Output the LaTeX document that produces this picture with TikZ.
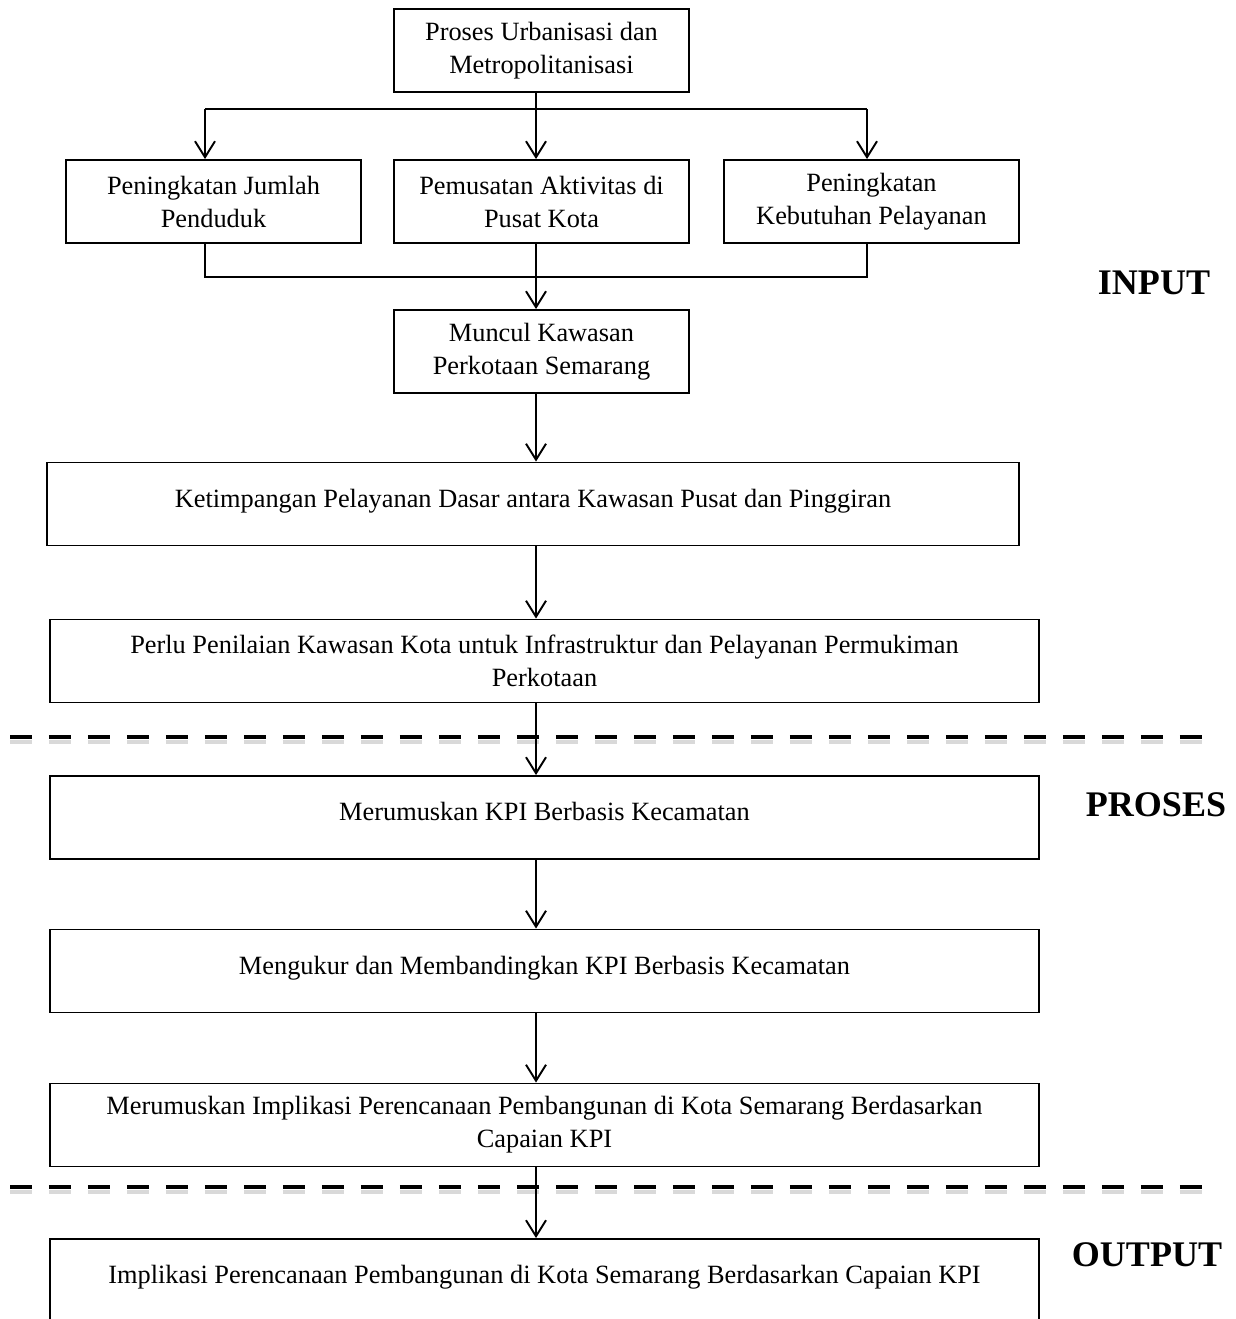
\documentclass[tikz,border=0pt]{standalone}
\usepackage{fontspec}
\setmainfont{Liberation Serif}
\usetikzlibrary{
    arrows.meta,
    positioning,
    calc
}
\tikzstyle{arrow} = [line width=1.1pt,-{Straight Barb[length=0.32cm,width=0.4cm,line width=1.1pt]}]
\tikzstyle{garis} = [line width=1.1pt]
\tikzstyle{batas} = [line width=2.8pt,dash pattern=on 0.44cm off 0.34cm]

\begin{document}
\begin{tikzpicture}[
        x=0.02cm,
        y=-0.02cm,
        line join=miter,
        every node/.style={font=\fontsize{15}{18.8}\selectfont},
        kotak/.style={draw,line width=1.1pt,align=center,inner sep=0pt,
            minimum height=1.66cm},
        kecil/.style={kotak,minimum width=5.9cm},
        satu/.style={kotak,text height=9pt,text depth=5.5pt},
        tahap/.style={font=\fontsize{20.5}{24}\selectfont\bfseries}
    ]

        % batas gambar
        \useasboundingbox (0,0) rectangle (1236,1319);

        % titik bantu jalur utama
        \coordinate (tengah) at (536,0);
        \coordinate (atas) at (536,109);
        \coordinate (bawah) at (536,277);
        \coordinate (kiri) at (205,109);
        \coordinate (kanan) at (867,109);

        % kotak bagian input
        \node[kecil] (urban) at (541.5,50.5)
            {Proses Urbanisasi dan\\Metropolitanisasi};
        \node[kecil] (pend) at (213.5,201.5)
            {Peningkatan Jumlah\\Penduduk};
        \node[kecil] (pusat) at (541.5,201.5)
            {Pemusatan Aktivitas di\\Pusat Kota};
        \node[kecil] (layan) at (871.5,201.5)
            {Peningkatan\\Kebutuhan Pelayanan};
        \node[kecil] (muncul) at (541.5,351.5)
            {Muncul Kawasan\\Perkotaan Semarang};
        \node[satu,minimum width=19.44cm] (timpang) at (533,504)
            {Ketimpangan Pelayanan Dasar antara Kawasan Pusat dan Pinggiran};
        \node[kotak,minimum width=19.78cm] (perlu) at (544.5,661)
            {Perlu Penilaian Kawasan Kota untuk Infrastruktur dan Pelayanan Permukiman\\Perkotaan};

        % kotak bagian proses
        \node[satu,minimum width=19.78cm] (kpi) at (544.5,817.5)
            {Merumuskan KPI Berbasis Kecamatan};
        \node[satu,minimum width=19.78cm] (ukur) at (544.5,971)
            {Mengukur dan Membandingkan KPI Berbasis Kecamatan};
        \node[kotak,minimum width=19.78cm] (implikasi) at (544.5,1125)
            {Merumuskan Implikasi Perencanaan Pembangunan di Kota Semarang Berdasarkan\\Capaian KPI};

        % kotak bagian output
        \node[satu,minimum width=19.78cm] (hasil) at (544.5,1280.5)
            {Implikasi Perencanaan Pembangunan di Kota Semarang Berdasarkan Capaian KPI};

        % percabangan ke tiga kotak
        \draw[garis] (urban.south -| tengah) -- (atas);
        \draw[garis] (kiri) -- (kanan);
        \draw[arrow] (kiri) -- (kiri |- pend.north);
        \draw[arrow] (atas) -- (tengah |- pusat.north);
        \draw[arrow] (kanan) -- (kanan |- layan.north);

        % penggabungan ke kawasan perkotaan
        \draw[garis] (kiri |- pend.south) -- (kiri |- bawah)
            -- (kanan |- bawah) -- (kanan |- layan.south);
        \draw[arrow] (tengah |- pusat.south) -- (tengah |- muncul.north);

        % alur ke bawah
        \draw[arrow] (tengah |- muncul.south) -- (tengah |- timpang.north);
        \draw[arrow] (tengah |- timpang.south) -- (tengah |- perlu.north);
        \draw[arrow] (tengah |- kpi.south) -- (tengah |- ukur.north);
        \draw[arrow] (tengah |- ukur.south) -- (tengah |- implikasi.north);

        % garis pemisah tahap
        \coordinate (pisah1) at (10,737);
        \coordinate (pisah2) at (10,1187);
        \draw[batas,black!15] ($(pisah1)+(0,5)$) -- ++(1202,0);
        \draw[batas,black!15] ($(pisah2)+(0,5)$) -- ++(1202,0);
        \draw[batas] (pisah1) -- ++(1202,0);
        \draw[batas] (pisah2) -- ++(1202,0);

        \draw[arrow] (tengah |- perlu.south) -- (tengah |- kpi.north);
        \draw[arrow] (tengah |- implikasi.south) -- (tengah |- hasil.north);

        % label tahap
        \node[tahap] (input) at (1154,283) {INPUT};
        \node[tahap] (proses) at (1156,805) {PROSES};
        \node[tahap] (output) at (1147,1255) {OUTPUT};

    \end{tikzpicture}
\end{document}
